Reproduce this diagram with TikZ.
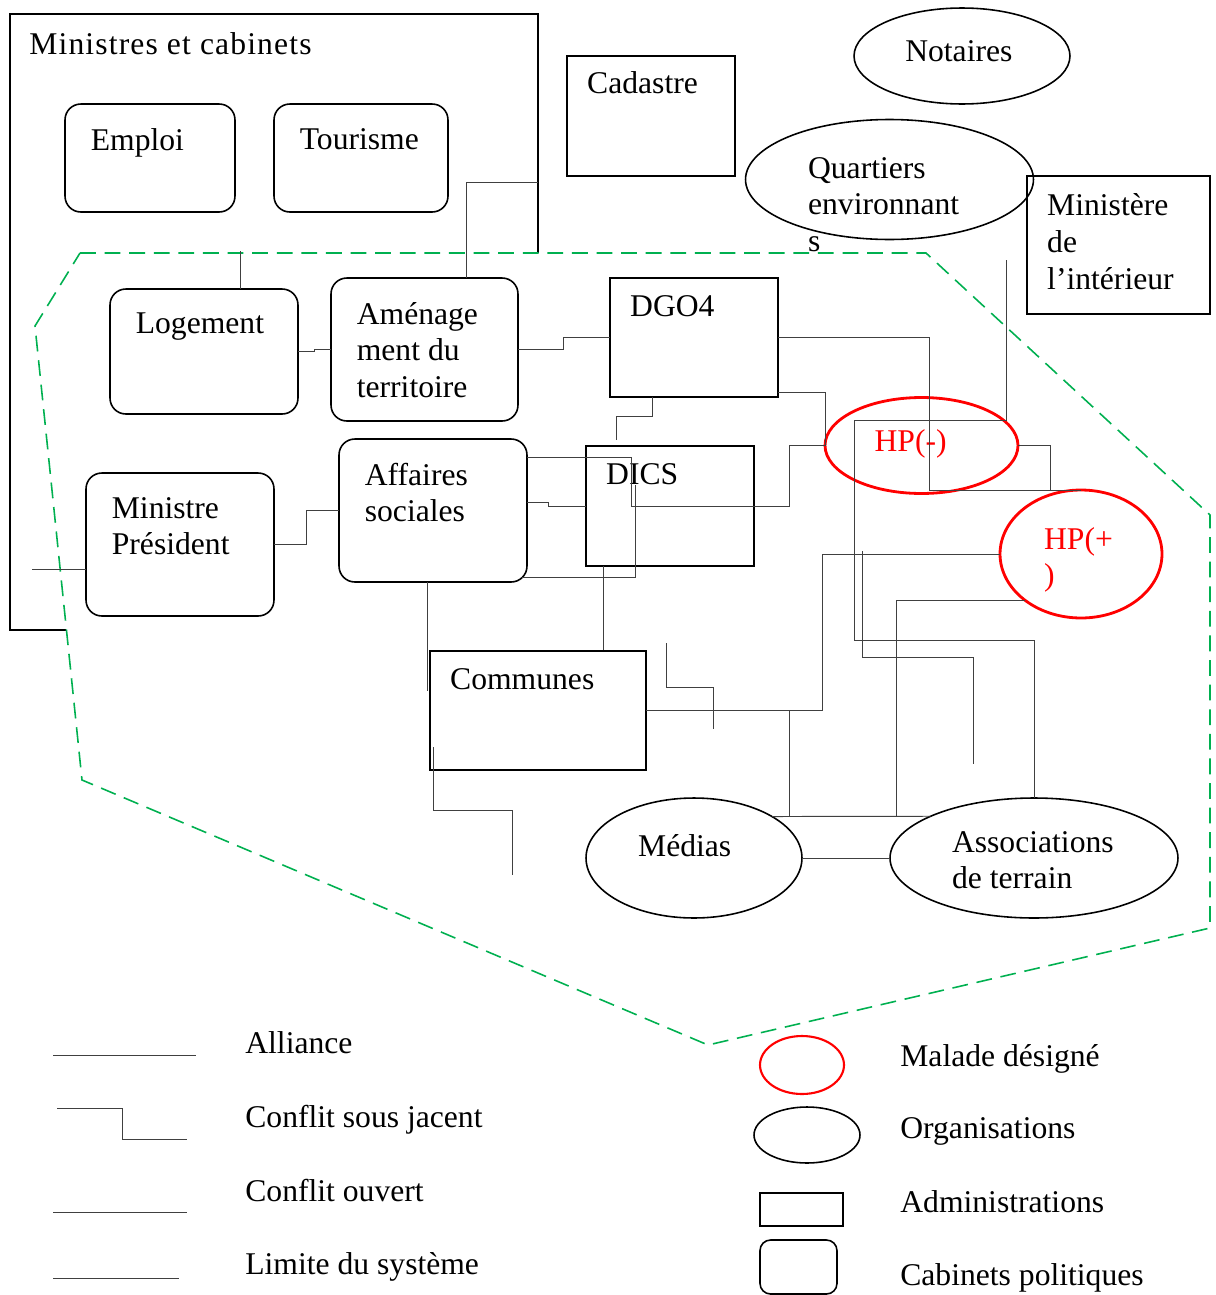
\documentclass[tikz,border=0pt]{standalone}
\usepackage{fontspec}
\setmainfont{Liberation Serif}
\usetikzlibrary{shapes.geometric}
\tikzset{>=latex}
\definecolor{limitgreen}{RGB}{0,176,80}
\tikzset{
  box/.style={draw, line width=.9pt, inner sep=0pt, outer sep=0pt},
  cab/.style={box, rounded corners=9pt},
  adm/.style={box, rectangle},
  org/.style={box, ellipse},
  hp/.style={box, ellipse, draw=red, line width=1.6pt},
  intxt/.style={anchor=north west, align=left, inner sep=0pt, xshift=14.5pt, yshift=-13.5pt},
  adtxt/.style={anchor=north west, align=left, inner sep=0pt, xshift=11.3pt, yshift=-10pt},
  eltxt/.style={anchor=north west, align=left, inner sep=0pt},
  legtxt/.style={anchor=base west, inner sep=0pt},
  link/.style={black!75, line width=.55pt},
  limite/.style={limitgreen, line width=.9pt, dash pattern=on 9pt off 5pt},
}

\begin{document}
\begin{tikzpicture}[x=0.02cm, y=-0.02cm, font=\fontsize{18}{20.8}\selectfont]
    \useasboundingbox (0,0) rectangle (1216,1295);
    \draw[line width=.9pt](538,253) |- (10,14) |- (66,630);
    \node[anchor=north west, inner sep=0pt](cabtitle) at (29,32){\addfontfeature{LetterSpace=3.6}Ministres et cabinets};
    \coordinate (cabedge) at (538,182);
    \coordinate (d1) at (862,551);
    \coordinate (d2) at (666,643);

    \draw[limite](80,253)--(926,253)--(1210,515)--(1210,928)--(708,1045)--(82,780)--(35,326)--cycle;

    \node[cab, minimum width=3.4cm, minimum height=2.16cm, label={[intxt]north west:Emploi}](emploi) at (150,158){};
    \node[cab, minimum width=3.48cm, minimum height=2.16cm, label={[intxt]north west:Tourisme}](tourisme) at (361,158){};
    \node[cab, minimum width=3.76cm, minimum height=2.5cm, label={[intxt]north west:Logement}](logement) at (204,351.5){};
    \node[cab, minimum width=3.74cm, minimum height=2.86cm, label={[intxt]north west:Aménage\\ment du\\territoire}](amen) at (424.5,349.5){};
    \node[cab, minimum width=3.76cm, minimum height=2.86cm, label={[intxt]north west:Ministre\\Président}](minpres) at (180,544.5){};
    \node[cab, minimum width=3.76cm, minimum height=2.86cm, label={[intxt]north west:Affaires\\sociales}](affsoc) at (433,510.5){};

    \node[adm, minimum width=3.36cm, minimum height=2.4cm, label={[adtxt, yshift=1.5pt]north west:Cadastre}](cadastre) at (651,116){};
    \node[adm, minimum width=3.36cm, minimum height=2.38cm, label={[adtxt]north west:DGO4}](dgo4) at (694,337.5){};
    \node[adm, minimum width=3.36cm, minimum height=2.4cm, label={[adtxt]north west:DICS}](dics) at (670,506){};
    \node[adm, minimum width=4.32cm, minimum height=2.38cm, label={[adtxt]north west:Communes}](communes) at (538,710.5){};
    \node[adm, minimum width=3.66cm, minimum height=2.76cm, label={[adtxt]north west:Ministère\\de\\l’intérieur}](minint) at (1118.5,245){};

    \node[org, minimum width=4.32cm, minimum height=1.92cm, label={[xshift=-1.8pt, yshift=2.8pt, inner sep=0pt]center:Notaires}](notaires) at (962,56){};
    \node[org, minimum width=5.76cm, minimum height=2.4cm, label={[eltxt, xshift=35.4pt, yshift=12.8pt]west:Quartiers\\environnant\\s}](quartiers) at (889.5,179.5){};
    \node[hp, minimum width=3.86cm, minimum height=1.92cm, label={[red, xshift=-6.2pt, yshift=1pt, inner sep=0pt]center:HP(-)}](hpmoins) at (921.5,445.5){};
    \node[hp, minimum width=3.24cm, minimum height=2.56cm, label={[eltxt, red, xshift=24.9pt, yshift=15.3pt]west:HP(+\\)}](hpplus) at (1081,554){};
    \node[org, minimum width=4.32cm, minimum height=2.4cm, label={[xshift=-5.3pt, yshift=7.3pt, inner sep=0pt]center:Médias}](medias) at (694,858){};
    \node[org, minimum width=5.76cm, minimum height=2.4cm, label={[eltxt, xshift=35.1pt, yshift=15.3pt]west:Associations\\de terrain}](assoc) at (1034,858){};

    \draw[link](amen.north) ++(41.5,0) |- (cabedge);
    \draw[link](logement.north) ++(36,0) -- ++(0,-38);
    \draw[link](logement.east) -- ++(16,0) |- (amen.west);
    \draw[link](amen.east) -- ++(45.5,0) |- (dgo4.west);
    \draw[link](minpres.east) -- ++(32,0) |- (affsoc.west);
    \draw[link](minpres.west) ++(0,24.5) -- ++(-54,0);
    \draw[link](affsoc.east) ++(0,-8) -- ++(21,0) |- (dics.west);
    \draw[link](affsoc.east) ++(0,-53.5) -- ++(104,0) -- ++(0,49.5) -- ++(158,0) |- (hpmoins.west);
    \draw[link](affsoc.south east) ++(-5,-5) -- ++(113,0) -- ++(0,-92);
    \draw[link](dgo4.south) ++(-42,0) -- ++(0,19) -- ++(-36,0) -- ++(0,24);
    \draw[link](dgo4.east) -- ++(151,0) |- (hpplus.north);
    \draw[link](hpmoins.east) -- ++(32,0) |- (hpplus.north);
    \draw[link](dgo4.east) ++(0,54.5) -| (hpmoins.west);
    \draw[link](minint.west) ++(-21,15) -- ++(0,160) -- ++(-152,0) -- ++(0,220) -| (assoc.north);
    \draw[link](d1) -- ++(0,106) -- ++(111,0) -- ++(0,107);
    \draw[link](communes.east) -- ++(176,0) |- (hpplus.west);
    \draw[link](communes.east) -- ++(143,0) -- ++(0,105.5);
    \draw[link](medias.28) -- (assoc.158);
    \draw[link](hpplus.220) -| ++(-129,215);
    \draw[link](medias.east) -- (assoc.west);
    \draw[link](d2) -- ++(0,44) -- ++(47,0) -- ++(0,42);
    \draw[link](dics.south) ++(-67,0) -- ++(0,84.5);
    \draw[link](affsoc.south) ++(-6,0) -- ++(0,109);
    \draw[link](communes.west) ++(3,36.5) -- ++(0,63) -- ++(79,0) -- ++(0,65);

    \draw[link](53,1055)--(196,1055);
    \draw[link](57,1108) -| (122,1139)--(187,1139);
    \draw[link](53,1212)--(187,1212);
    \draw[link](53,1278)--(179,1278);
    \node[legtxt](lalliance) at (245,1053){Alliance};
    \node[legtxt](lsousjacent) at (245,1127){Conflit sous jacent};
    \node[legtxt](louvert) at (245,1201){Conflit ouvert};
    \node[legtxt](llimite) at (245,1274){Limite du système};

    \node[hp, line width=1.2pt, minimum width=1.68cm, minimum height=1.16cm](legmalade) at (802,1065){};
    \node[org, minimum width=2.12cm, minimum height=1.12cm](legorg) at (807,1135){};
    \node[adm, minimum width=1.66cm, minimum height=.66cm](legadm) at (801.5,1209.5){};
    \node[cab, rounded corners=6pt, minimum width=1.54cm, minimum height=1.08cm](legcab) at (798.5,1267){};
    \node[legtxt](lmalade) at (900,1066){Malade désigné};
    \node[legtxt](lorg) at (900,1138){Organisations};
    \node[legtxt](ladm) at (900,1212.5){Administrations};
    \node[legtxt](lcab) at (900,1285.5){Cabinets politiques};
\end{tikzpicture}
\end{document}
